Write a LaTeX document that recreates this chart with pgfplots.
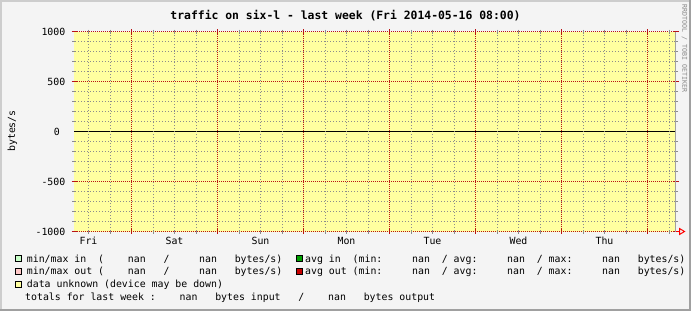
\documentclass[border=0pt]{standalone}
\usepackage{pgfplots}
\pgfplotsset{compat=1.18}
\usepackage{fontspec}
\setmainfont{DejaVu Sans Mono}
\setmonofont{DejaVu Sans Mono}
\frenchspacing
\definecolor{bg}{RGB}{244,244,244}
\definecolor{shadea}{RGB}{205,205,205}
\definecolor{shadeb}{RGB}{160,160,160}
\definecolor{unk}{RGB}{255,255,160}
\definecolor{darkred}{RGB}{185,20,20}
\definecolor{gridgrey}{RGB}{140,140,140}
\definecolor{mmin}{RGB}{200,255,200}
\definecolor{mmout}{RGB}{255,200,200}
\definecolor{avgin}{RGB}{0,160,0}
\definecolor{avgout}{RGB}{200,0,0}
\definecolor{wm}{RGB}{135,135,135}
\newcommand\lf{\fontsize{9.87bp}{12bp}\selectfont}
\newcommand\lt[3]{\node[anchor=base west, inner sep=0pt, font=\lf] at ({26.7+#1*5.94}, #2) {#3};}
\newcommand\ltb[3]{\node[anchor=base west, inner sep=0pt, font=\lf] at ({25+#1*5.94}, #2) {#3};}
\newcommand\rt[3]{\node[anchor=base west, inner sep=0pt, font=\lf] at ({305+#1*5.94}, #2) {#3};}
\begin{document}
\begin{tikzpicture}
\useasboundingbox (0,0) rectangle (691bp,-311bp);
\fill[bg] (0,0) rectangle (691bp,-311bp);
\fill[shadea] (0,0) rectangle (691bp,-2bp);
\fill[shadea] (0,0) rectangle (2bp,-311bp);
\fill[shadeb] (0,-309bp) rectangle (691bp,-311bp);
\fill[shadeb] (689bp,0) rectangle (691bp,-311bp);

\begin{axis}[
  at={(74.17bp,-231.5bp)}, anchor=south west,
  scale only axis, width=602bp, height=200bp,
  xmin=0, xmax=168, ymin=-1000, ymax=1000,
  axis on top,
  axis line style={draw=none},
  xtick={16,40,64,88,112,136,160}, xticklabels={},
  minor xtick={4,10,22,28,34,46,52,58,70,76,82,94,100,106,118,124,130,142,148,154,166},
  extra x ticks={4,28,52,76,100,124,148},
  extra x tick labels={Fri,Sat,Sun,Mon,Tue,Wed,Thu},
  extra x tick style={grid=none, major tick length=0pt},
  ytick={-1000,-500,500,1000}, yticklabels={-1000,-500,500,1000},
  extra y ticks={0}, extra y tick labels={0},
  extra y tick style={grid=none, major tick length=0pt, yticklabel style={xshift=-8bp}},
  minor ytick={-900,-800,-700,-600,-400,-300,-200,-100,100,200,300,400,600,700,800,900},
  grid=both,
  major x grid style={draw=darkred, dash pattern=on 1bp off 1bp, dash phase=1.5bp, line width=1bp},
  major y grid style={draw=darkred, dash pattern=on 1bp off 1bp, dash phase=1.17bp, line width=1bp},
  minor x grid style={draw=gridgrey, dash pattern=on 1bp off 2bp, dash phase=2.5bp, line width=1bp},
  minor y grid style={draw=gridgrey, dash pattern=on 1bp off 2bp, dash phase=2.17bp, line width=1bp},
  tick align=center, major tick length=5bp, minor tick length=4bp,
  major tick style={draw=darkred, line width=1bp},
  minor tick style={draw=gridgrey, line width=1bp},
  tick label style={font=\lf},
  yticklabel style={anchor=east, inner sep=0pt, xshift=-6.2bp},
  xticklabel style={anchor=base, inner sep=0pt, yshift=-12.8bp},
]
% data unknown area (device may be down) over the whole week
\addplot[draw=none, fill=unk] coordinates {(0,-1000) (0,1000) (168,1000) (168,-1000)} -- cycle;
% zero line
\addplot[black, line width=1bp] coordinates {(0,0) (168,0)};
\end{axis}

\begin{scope}[x=1bp, y=-1bp]
\draw[shadeb, line width=1bp] (675.5,31.5) -- (675.5,231.5);
\draw[red, line width=1bp] (676,231.5) -- (679.5,231.5);
\draw[red, line width=1bp, fill=bg] (679.5,228.5) -- (684.5,231.5) -- (679.5,234.5) -- cycle;

\node[anchor=base, inner sep=0pt, font=\fontsize{11.4bp}{13bp}\selectfont\bfseries] at (345.5,19) {traffic on six-l - last week (Fri 2014-05-16 08:00)};
\node[rotate=90, inner sep=0pt, font=\lf] at (12.5,131) {bytes/s};
\node[rotate=-90, inner sep=0pt, text=wm, font=\fontsize{6.6bp}{7bp}\selectfont] at (684.5,48.5) {RRDTOOL / TOBI OETIKER};

% legend boxes
\filldraw[fill=mmin, draw=black, line width=0.8bp] (15.5,255.5) rectangle (21.5,261.5);
\filldraw[fill=mmout, draw=black, line width=0.8bp] (15.5,268) rectangle (21.5,274);
\filldraw[fill=unk, draw=black, line width=0.8bp] (15.5,281.5) rectangle (21.5,287.5);
\filldraw[fill=avgin, draw=black, line width=0.8bp] (296.5,255.5) rectangle (302.5,261.5);
\filldraw[fill=avgout, draw=black, line width=0.8bp] (296.5,268) rectangle (302.5,274);

% row 1
\lt{0}{262}{min/max in}
\lt{12}{262}{(}
\lt{17}{262}{nan}
\lt{23}{262}{/}
\lt{29}{262}{nan}
\lt{35}{262}{bytes/s)}
\rt{0}{262}{avg in}
\rt{8}{262}{(min:}
\rt{18}{262}{nan}
\rt{23}{262}{/}
\rt{25}{262}{avg:}
\rt{34}{262}{nan}
\rt{39}{262}{/}
\rt{41}{262}{max:}
\rt{50}{262}{nan}
\rt{56}{262}{bytes/s)}
% row 2
\lt{0}{274.5}{min/max out}
\lt{12}{274.5}{(}
\lt{17}{274.5}{nan}
\lt{23}{274.5}{/}
\lt{29}{274.5}{nan}
\lt{35}{274.5}{bytes/s)}
\rt{0}{274.5}{avg out}
\rt{8}{274.5}{(min:}
\rt{18}{274.5}{nan}
\rt{23}{274.5}{/}
\rt{25}{274.5}{avg:}
\rt{34}{274.5}{nan}
\rt{39}{274.5}{/}
\rt{41}{274.5}{max:}
\rt{50}{274.5}{nan}
\rt{56}{274.5}{bytes/s)}
% row 3
\lt{0}{287.5}{data unknown (device may be down)}
% row 4
\ltb{0}{300}{totals for last week :}
\ltb{26}{300}{nan}
\ltb{32}{300}{bytes input}
\ltb{46}{300}{/}
\ltb{51}{300}{nan}
\ltb{57}{300}{bytes output}
\end{scope}
\end{tikzpicture}
\end{document}
